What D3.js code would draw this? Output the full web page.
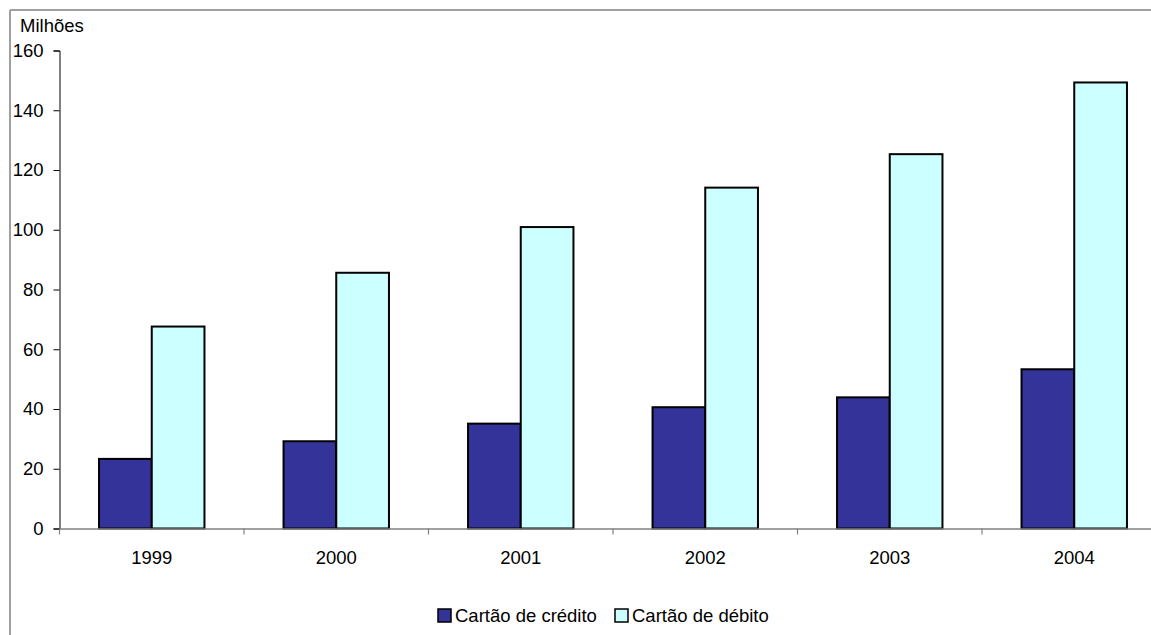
<!DOCTYPE html>
<html>
<head>
<meta charset="utf-8">
<script src="https://cdn.jsdelivr.net/npm/d3@7"></script>
<style>
  html, body { margin: 0; padding: 0; background: #fff; }
  svg { display: block; }
  text { font-family: "Liberation Sans", Arial, sans-serif; fill: #000; }
</style>
</head>
<body>
<svg id="chart" width="1151" height="635"></svg>
<script>
// Cartões em circulação (milhões)
const years = ["1999", "2000", "2001", "2002", "2003", "2004"];
const credito = [23.3, 29.2, 35.1, 40.6, 43.9, 53.3];
const debito = [67.6, 85.6, 100.9, 114.1, 125.3, 149.3];
const seriesNames = ["Cartão de crédito", "Cartão de débito"];
const seriesColors = ["#333399", "#CCFFFF"];
const yTicks = [0, 20, 40, 60, 80, 100, 120, 140, 160];

const FS = 18.5;
const svg = d3.select("#chart");

// chart area frame (top and left edges)
svg.append("line").attr("x1", 10).attr("x2", 1151).attr("y1", 10).attr("y2", 10)
  .attr("stroke", "#a0a0a0").attr("stroke-width", 2);
svg.append("line").attr("x1", 10).attr("x2", 10).attr("y1", 10).attr("y2", 635)
  .attr("stroke", "#a0a0a0").attr("stroke-width", 2);

const left = 59.5, bandW = 184.5;
const x = d3.scaleBand().domain(years).range([left, left + bandW * years.length]).paddingInner(0).paddingOuter(0);
const y = d3.scaleLinear().domain([0, 160]).range([528.5, 50.5]);
const barW = x.bandwidth() / 3.5;
const inner = d3.scaleBand().domain([0, 1]).range([0, barW * 2]);

// y axis
const yAxis = svg.append("g").attr("transform", `translate(${left},0)`)
  .call(d3.axisLeft(y).tickValues(yTicks).tickSize(6).tickPadding(10).tickFormat(d3.format("d")));
yAxis.select(".domain").attr("stroke", "#000").attr("stroke-width", 1);
yAxis.selectAll(".tick line").attr("stroke", "#000");
yAxis.selectAll("text").style("font-size", FS + "px").attr("fill", "#000");

svg.append("text").attr("x", 20).attr("y", 32).style("font-size", FS + "px").text("Milhões");

// bars
const data = years.map((yr, i) => ({ yr, vals: [credito[i], debito[i]] }));
const groups = svg.append("g").selectAll("g").data(data).join("g")
  .attr("transform", d => `translate(${x(d.yr) + (x.bandwidth() - barW * 2) / 2},0)`);
groups.selectAll("rect").data(d => d.vals.map((v, k) => ({ v, k }))).join("rect")
  .attr("x", d => inner(d.k))
  .attr("width", barW)
  .attr("y", d => y(d.v))
  .attr("height", d => y(0) - y(d.v))
  .attr("fill", d => seriesColors[d.k])
  .attr("stroke", "#000")
  .attr("stroke-width", 2);

// x axis
const xAxis = svg.append("g").attr("transform", `translate(0,${y(0)})`)
  .call(d3.axisBottom(x).tickSize(0).tickPadding(22));
xAxis.select(".domain").attr("stroke", "#808080").attr("stroke-width", 1.5);
xAxis.selectAll("text").style("font-size", FS + "px").attr("fill", "#000");
// category separators
svg.append("g").selectAll("line").data(years).join("line")
  .attr("x1", d => x(d)).attr("x2", d => x(d))
  .attr("y1", y(0)).attr("y2", y(0) + 6)
  .attr("stroke", "#808080").attr("stroke-width", 1.2);

// legend
const legendX = [438, 615];
const lg = svg.append("g").selectAll("g").data(seriesNames).join("g")
  .attr("transform", (d, i) => `translate(${legendX[i]},609)`);
lg.append("rect").attr("width", 13).attr("height", 13)
  .attr("fill", (d, i) => seriesColors[i]).attr("stroke", "#000").attr("stroke-width", 1.5);
lg.append("text").attr("x", 17).attr("y", 12.7).style("font-size", FS + "px").text(d => d);
</script>
</body>
</html>
